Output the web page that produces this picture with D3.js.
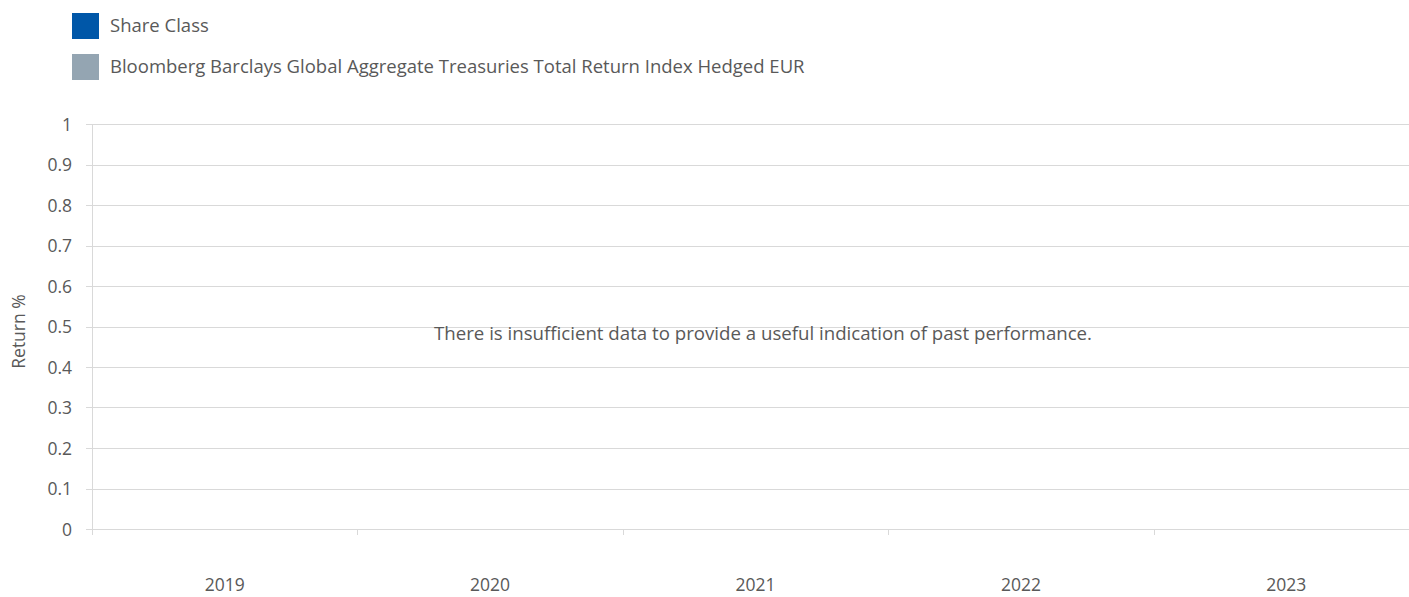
<!DOCTYPE html>
<html lang="en">
<head>
<meta charset="UTF-8">
<title>Past performance</title>
<script src="https://d3js.org/d3.v7.min.js"></script>
<style>
  body { margin: 0; background: #fff; }
  text { font-family: "Open Sans", "Noto Sans", sans-serif; fill: #595959; }
  .grid line { stroke: #d9d9d9; shape-rendering: crispEdges; }
  .axis path, .axis line { stroke: #d9d9d9; shape-rendering: crispEdges; }
  .axis text { font-size: 17.5px; fill: #595959; }
</style>
</head>
<body>
<div id="app"></div>
<script>
  var years = ["2019", "2020", "2021", "2022", "2023"];
  var shareClass = [null, null, null, null, null];
  var benchmark = [null, null, null, null, null];
  var yTicks = [0, 0.1, 0.2, 0.3, 0.4, 0.5, 0.6, 0.7, 0.8, 0.9, 1];
  var seriesNames = ["Share Class", "Bloomberg Barclays Global Aggregate Treasuries Total Return Index Hedged EUR"];
  var seriesColors = ["#0057a8", "#94a5b2"];
  var message = "There is insufficient data to provide a useful indication of past performance.";

  var width = 1409, height = 597;
  var margin = { left: 92, top: 124, right: -10, bottom: 68 };

  var svg = d3.select("#app").append("svg")
    .attr("width", width)
    .attr("height", height);

  var x = d3.scaleBand()
    .domain(years)
    .range([margin.left, width - margin.right]);

  var y = d3.scaleLinear()
    .domain([0, 1])
    .range([height - margin.bottom, margin.top]);

  // gridlines
  svg.append("g")
    .attr("class", "grid")
    .selectAll("line")
    .data(yTicks)
    .enter().append("line")
    .attr("x1", margin.left - 6)
    .attr("x2", width)
    .attr("y1", function (d) { return Math.round(y(d)) + 0.5; })
    .attr("y2", function (d) { return Math.round(y(d)) + 0.5; })
    .attr("stroke-width", 1.5);

  // y axis
  var yAxis = d3.axisLeft(y)
    .tickValues(yTicks)
    .tickFormat(function (d) { return d3.format("")(+d.toFixed(1)); })
    .tickSize(0)
    .tickPadding(20);
  var gy = svg.append("g")
    .attr("class", "axis")
    .attr("transform", "translate(" + margin.left + ",0)")
    .call(yAxis);
  gy.select(".domain").attr("stroke-width", 1.5);
  gy.selectAll("text").attr("dy", "0.35em");

  // x axis
  var gx = svg.append("g")
    .attr("class", "axis")
    .attr("transform", "translate(0," + y(0) + ")")
    .call(d3.axisBottom(x).tickSize(0).tickPadding(56));
  gx.select(".domain").remove();
  gx.selectAll("text").attr("dy", "0.35em");

  // category separator ticks
  svg.append("g")
    .attr("class", "axis")
    .selectAll("line")
    .data(years)
    .enter().append("line")
    .attr("x1", function (d) { return Math.round(x(d)) + 0.5; })
    .attr("x2", function (d) { return Math.round(x(d)) + 0.5; })
    .attr("y1", y(0))
    .attr("y2", y(0) + 6)
    .attr("stroke-width", 1.5);

  // bars (no data available)
  var bw = x.bandwidth() / 4;
  [shareClass, benchmark].forEach(function (vals, k) {
    svg.append("g").selectAll("rect")
      .data(vals.map(function (v, i) { return { year: years[i], v: v }; })
        .filter(function (d) { return d.v != null; }))
      .enter().append("rect")
      .attr("x", function (d) { return x(d.year) + x.bandwidth() / 2 - bw + k * bw; })
      .attr("width", bw)
      .attr("y", function (d) { return y(Math.max(0, d.v)); })
      .attr("height", function (d) { return Math.abs(y(d.v) - y(0)); })
      .attr("fill", seriesColors[k]);
  });

  // y title
  svg.append("text")
    .attr("transform", "translate(25," + (y(0.5) + 5) + ") rotate(-90)")
    .attr("text-anchor", "middle")
    .style("font-size", "17.5px")
    .text("Return %");

  // message
  svg.append("text")
    .attr("x", 763)
    .attr("y", y(0.5) + 13)
    .attr("text-anchor", "middle")
    .style("font-size", "17.5px")
    .attr("textLength", 658)
    .attr("lengthAdjust", "spacingAndGlyphs")
    .text(message);

  // legend
  var legend = svg.append("g").selectAll("g")
    .data(seriesNames)
    .enter().append("g")
    .attr("transform", function (d, i) { return "translate(72," + (13 + i * 41) + ")"; });
  legend.append("rect")
    .attr("width", 27)
    .attr("height", 26)
    .attr("fill", function (d, i) { return seriesColors[i]; });
  legend.append("text")
    .attr("x", 38)
    .attr("y", 19)
    .style("font-size", "18.5px")
    .text(function (d) { return d; });
</script>
</body>
</html>
